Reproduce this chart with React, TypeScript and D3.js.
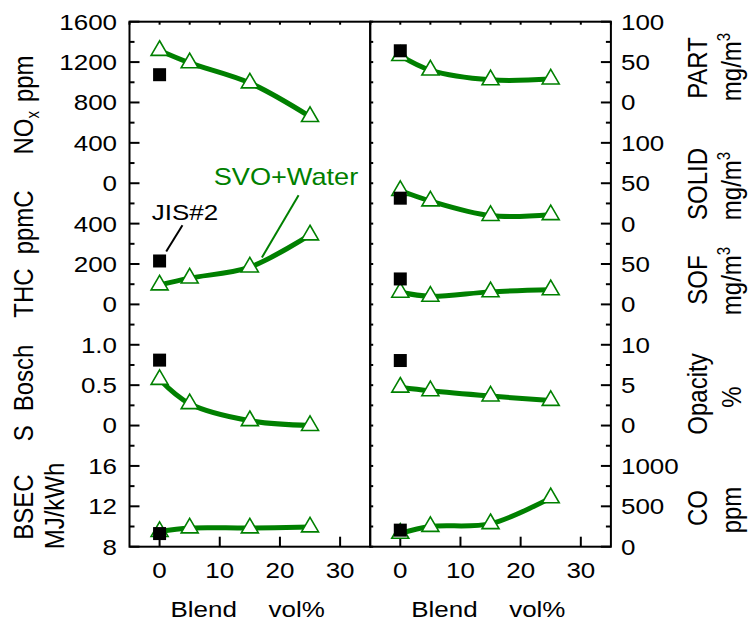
import * as d3 from "d3";
import React from "react";

// blend ratio (vol%) of the SVO+Water fuel, JIS#2 diesel sits at 0
const blend = [0, 5, 15, 25];
const jisBlend = 0;

// left panel
const noxSVO = [1315, 1192, 993, 660];
const noxJIS = 1075;
const thcSVO = [96, 130, 185, 344];
const thcJIS = 215;
const boschSVO = [0.57, 0.27, 0.06, 0.0];
const boschJIS = 0.81;
const bsecSVO = [9.5, 9.85, 9.85, 9.95];
const bsecJIS = 9.3;

// right panel
const partSVO = [58, 40, 28, 29];
const partJIS = 64;
const solidSVO = [41, 28, 10, 11];
const solidJIS = 31.5;
const sofSVO = [15, 10, 15.5, 18];
const sofJIS = 31.5;
const opacitySVO = [4.75, 4.3, 3.65, 3.1];
const opacityJIS = 8.05;
const coSVO = [165, 250, 285, 605];
const coJIS = 205;

const xTicks = [0, 10, 20, 30];

const GREEN = "#008000";
const FONT = "'Liberation Sans', Arial, Helvetica, sans-serif";
const SX = 1.18; // the original figure is stretched sideways

const top = 21.7, bottom = 546.7;
const units = 13;
const u = (bottom - top) / units;

const leftX0 = 129.5, rightX0 = 370.2, panelW = 240.7;
const xLeft = d3.scaleLinear().domain([-5, 35]).range([leftX0, leftX0 + panelW]);
const xRight = d3.scaleLinear().domain([-5, 35]).range([rightX0, rightX0 + panelW]);

// sub-plots listed top to bottom, each spans `n` grid units
const leftPlots = [
  { key: "nox", domain: [0, 1600], n: 4, ticks: [0, 400, 800, 1200, 1600], svo: noxSVO, jis: noxJIS },
  { key: "thc", domain: [0, 600], n: 3, ticks: [0, 200, 400], svo: thcSVO, jis: thcJIS },
  { key: "bosch", domain: [0, 1.5], n: 3, ticks: [0, 0.5, 1.0], svo: boschSVO, jis: boschJIS, fmt: (v) => (v === 0 ? "0" : v.toFixed(1)) },
  { key: "bsec", domain: [8, 20], n: 3, ticks: [8, 12, 16], svo: bsecSVO, jis: bsecJIS },
];
const rightPlots = [
  { key: "part", domain: [0, 100], n: 2, ticks: [0, 50, 100], svo: partSVO, jis: partJIS },
  { key: "solid", domain: [0, 150], n: 3, ticks: [0, 50, 100], svo: solidSVO, jis: solidJIS },
  { key: "sof", domain: [0, 100], n: 2, ticks: [0, 50], svo: sofSVO, jis: sofJIS },
  { key: "opacity", domain: [0, 15], n: 3, ticks: [0, 5, 10], svo: opacitySVO, jis: opacityJIS },
  { key: "co", domain: [0, 1500], n: 3, ticks: [0, 500, 1000], svo: coSVO, jis: coJIS },
];

function withScales(plots) {
  let y0 = top;
  return plots.map((p) => {
    const y1 = y0 + p.n * u;
    const y = d3.scaleLinear().domain(p.domain).range([y1, y0]);
    y0 = y1;
    return { ...p, y };
  });
}

const T = ({ x, y, rot = false, anchor = "start", size = 22, fill = "#000", dy = 0, children }) => (
  <text
    transform={`translate(${x},${y}) scale(${SX},1)${rot ? " rotate(-90)" : ""}`}
    textAnchor={anchor}
    fontSize={size}
    fontFamily={FONT}
    fill={fill}
    dy={dy}
  >
    {children}
  </text>
);

const triangle = "M0,-9.7L8.5,4.9L-8.5,4.9Z";

function Series({ p, x }) {
  const line = d3.line()
    .x((_d, i) => x(blend[i]))
    .y((d) => p.y(d))
    .curve(d3.curveCatmullRom.alpha(0.5));
  return (
    <g>
      <path d={line(p.svo)} fill="none" stroke={GREEN} strokeWidth={5} strokeLinejoin="round" />
      {p.svo.map((v, i) => (
        <path key={i} d={triangle} transform={`translate(${x(blend[i])},${p.y(v)})`} fill="#fff" stroke={GREEN} strokeWidth={1.6} />
      ))}
      <rect x={x(jisBlend) - 6.5} y={p.y(p.jis) - 6.5} width={13} height={13} fill="#000" />
    </g>
  );
}

function Frame({ x0, leftAxis, rightAxis, innerLeftTicks }) {
  const minor = d3.range(0, units * 2 + 1).map((i) => ({ y: top + (i * u) / 2, major: i % 2 === 0 }));
  const x = d3.scaleLinear().domain([-5, 35]).range([x0, x0 + panelW]);
  const x1 = x0 + panelW;
  return (
    <g stroke="#000" strokeWidth={2}>
      {/* top minor ticks */}
      {d3.range(-5, 36, 5).map((v) => (
        <line key={"t" + v} x1={x(v)} x2={x(v)} y1={top} y2={top + 3} />
      ))}
      {xTicks.map((v) => (
        <line key={"b" + v} x1={x(v)} x2={x(v)} y1={bottom} y2={bottom - 10} />
      ))}
      {leftAxis && minor.map((m, i) => (
        <line key={"l" + i} x1={x0} x2={x0 + (m.major ? 10 : 5)} y1={m.y} y2={m.y} />
      ))}
      {innerLeftTicks && minor.map((m, i) => (
        <line key={"il" + i} x1={x0} x2={x0 + 3} y1={m.y} y2={m.y} />
      ))}
      {rightAxis && minor.map((m, i) => (
        <line key={"r" + i} x1={x1} x2={x1 - (m.major ? 10 : 5)} y1={m.y} y2={m.y} />
      ))}
      <rect x={x0} y={top} width={panelW} height={bottom - top} fill="none" />
    </g>
  );
}

export default function App() {
  const L = withScales(leftPlots);
  const R = withScales(rightPlots);
  const thc = L[1];
  return (
    <svg width={751} height={624} style={{ position: "absolute", left: 0, top: 0, background: "#fff" }}>
      <rect width={751} height={624} fill="#fff" />
      <Frame x0={leftX0} leftAxis />
      <Frame x0={rightX0} rightAxis innerLeftTicks />

      {L.map((p) => <Series key={p.key} p={p} x={xLeft} />)}
      {R.map((p) => <Series key={p.key} p={p} x={xRight} />)}

      {/* y tick labels */}
      {L.map((p) => p.ticks.map((t) => (
        <T key={p.key + t} x={117} y={p.y(t)} dy="0.36em" anchor="end">{p.fmt ? p.fmt(t) : t}</T>
      )))}
      {R.map((p) => p.ticks.map((t) => (
        <T key={p.key + t} x={621} y={p.y(t)} dy="0.36em">{t}</T>
      )))}

      {/* x tick labels and titles */}
      {[xLeft, xRight].map((x, k) => (
        <g key={k}>
          {xTicks.map((t) => (
            <T key={t} x={x(t)} y={578} anchor="middle">{t}</T>
          ))}
          <T x={x(-5) + 41} y={617}>Blend</T>
          <T x={x(-5) + 139} y={617}>vol%</T>
        </g>
      ))}

      {/* left axis titles */}
      <T x={33} y={105} rot anchor="middle" size={24}>
        NO<tspan fontSize={15} dy={5}>x</tspan><tspan dy={-5} dx={9}>ppm</tspan>
      </T>
      <T x={33} y={254} rot anchor="middle" size={24}>
        THC<tspan dx={14}>ppmC</tspan>
      </T>
      <T x={33} y={393} rot anchor="middle" size={24}>
        S<tspan dx={14}>Bosch</tspan>
      </T>
      <T x={33} y={507} rot anchor="middle" size={24}>BSEC</T>
      <T x={64} y={506} rot anchor="middle" size={24}>MJ/kWh</T>

      {/* right axis titles */}
      {[
        ["PART", 68, 67],
        ["SOLID", 184, 186],
        ["SOF", 280, 281],
      ].map(([name, c1, c2]) => (
        <g key={name}>
          <T x={707} y={c1} rot anchor="middle" size={24}>{name}</T>
          <T x={741} y={c2} rot anchor="middle" size={24}>
            mg/m<tspan fontSize={15} dy={-9}>3</tspan>
          </T>
        </g>
      ))}
      <T x={707} y={394} rot anchor="middle" size={24}>Opacity</T>
      <T x={741} y={397} rot anchor="middle" size={24}>%</T>
      <T x={707} y={508} rot anchor="middle" size={24}>CO</T>
      <T x={741} y={510} rot anchor="middle" size={24}>ppm</T>

      {/* annotations */}
      <line x1={xLeft(3.8)} y1={thc.y(392)} x2={xLeft(1.1)} y2={thc.y(262)} stroke="#000" strokeWidth={2} />
      <T x={xLeft(-1.3)} y={thc.y(416)}>JIS#2</T>
      <line x1={xLeft(23.1)} y1={thc.y(540)} x2={xLeft(17)} y2={thc.y(232)} stroke={GREEN} strokeWidth={2} />
      <T x={xLeft(9)} y={thc.y(593)} size={23} fill={GREEN}>SVO+Water</T>
    </svg>
  );
}
